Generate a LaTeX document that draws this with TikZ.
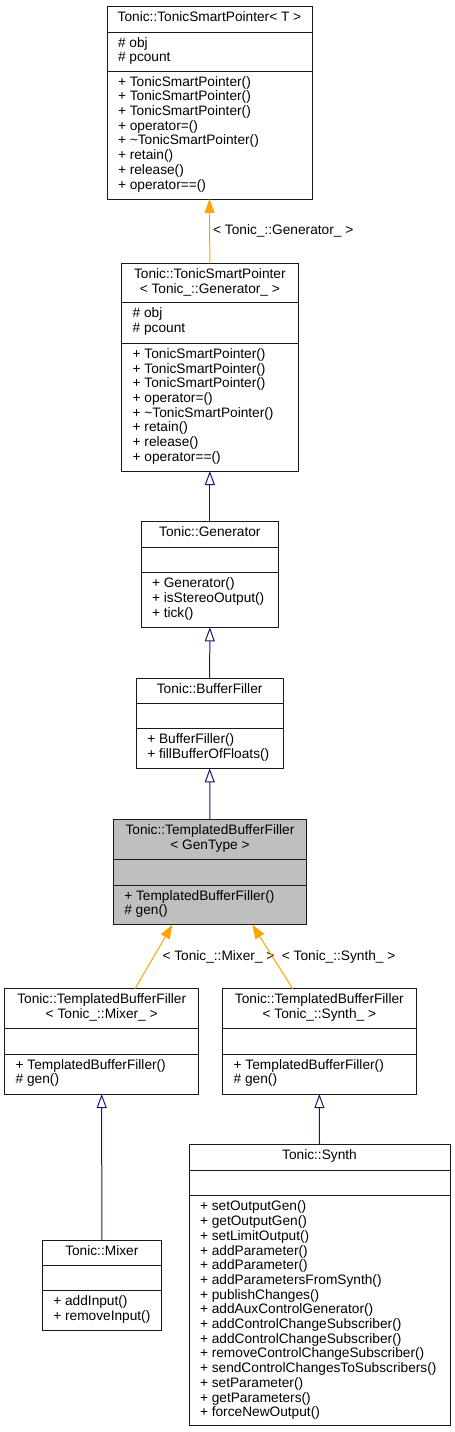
\documentclass[tikz,border=0pt]{standalone}
\usepackage{fontspec}
\setmainfont{Liberation Sans}
\usetikzlibrary{arrows.meta}
\definecolor{edgeorange}{HTML}{FFA500}
\definecolor{edgeblue}{HTML}{191970}
\definecolor{boxgray}{HTML}{BFBFBF}
\definecolor{boxline}{HTML}{1A1A1A}
\newcommand{\fs}{\fontsize{13.7}{14.7}\selectfont}
\begin{document}
\begin{tikzpicture}[x=1pt,y=-1pt,
  cls/.style={draw=boxline,line width=0.9pt,rectangle,inner sep=0pt,outer sep=0pt,anchor=north west},
  sep/.style={draw=boxline,line width=0.9pt},
  txt/.style={font=\fs,inner sep=0pt,outer sep=0pt,align=left,anchor=north west},
  ttl/.style={font=\fs,inner sep=0pt,outer sep=0pt,align=center,anchor=north},
  inh/.style={draw=edgeblue,line width=1pt,-{Triangle[open,width=10pt,length=14pt]}},
  tpl/.style={draw=edgeorange,line width=1pt,-{Triangle[width=10pt,length=14pt,fill=edgeorange]}},
  lbl/.style={font=\fs,inner sep=0pt,anchor=base west}
]
\fill[white] (0,0) rectangle (455,1432);
\useasboundingbox (0,0) rectangle (455,1432);

% A
\node[cls,minimum width=205pt,minimum height=193pt] (A) at (107,6) {};
\draw[sep] ([yshift=-26pt]A.north west) -- ([yshift=-26pt]A.north east);
\draw[sep] ([yshift=-65pt]A.north west) -- ([yshift=-65pt]A.north east);
\node[ttl] (At) at (209.5,10.9) {\strut Tonic::TonicSmartPointer< T >};
\node[txt] (Aa) at (118,36.9) {\strut\# obj\\\# pcount};
\node[txt] (Am) at (118,75.9) {\strut+ TonicSmartPointer()\\+ TonicSmartPointer()\\+ TonicSmartPointer()\\+ operator=()\\+ \textasciitilde TonicSmartPointer()\\+ retain()\\+ release()\\+ operator==()};

% B
\node[cls,minimum width=176.3pt,minimum height=207.7pt] (B) at (121.7,263.3) {};
\draw[sep] ([yshift=-39.4pt]B.north west) -- ([yshift=-39.4pt]B.north east);
\draw[sep] ([yshift=-80pt]B.north west) -- ([yshift=-80pt]B.north east);
\node[ttl] (Bt) at (209.85,268.2) {\strut Tonic::TonicSmartPointer\\< Tonic\_::Generator\_ >};
\node[txt] (Ba) at (132.7,307.6) {\strut\# obj\\\# pcount};
\node[txt] (Bm) at (132.7,348.2) {\strut+ TonicSmartPointer()\\+ TonicSmartPointer()\\+ TonicSmartPointer()\\+ operator=()\\+ \textasciitilde TonicSmartPointer()\\+ retain()\\+ release()\\+ operator==()};

% C
\node[cls,minimum width=137.7pt,minimum height=105.6pt] (C) at (141,521.7) {};
\draw[sep] ([yshift=-25.6pt]C.north west) -- ([yshift=-25.6pt]C.north east);
\draw[sep] ([yshift=-51pt]C.north west) -- ([yshift=-51pt]C.north east);
\node[ttl] (Ct) at (209.85,526.6) {\strut Tonic::Generator};
\node[txt] (Cm) at (152,577.6) {\strut+ Generator()\\+ isStereoOutput()\\+ tick()};

% D
\node[cls,minimum width=146.7pt,minimum height=90pt] (D) at (136.3,678.3) {};
\draw[sep] ([yshift=-24.7pt]D.north west) -- ([yshift=-24.7pt]D.north east);
\draw[sep] ([yshift=-50.4pt]D.north west) -- ([yshift=-50.4pt]D.north east);
\node[ttl] (Dt) at (209.65,683.2) {\strut Tonic::BufferFiller};
\node[txt] (Dm) at (147.3,733.6) {\strut+ BufferFiller()\\+ fillBufferOfFloats()};

% E
\node[cls,fill=boxgray,minimum width=193.4pt,minimum height=105.4pt] (E) at (113.3,819.3) {};
\draw[sep] ([yshift=-40pt]E.north west) -- ([yshift=-40pt]E.north east);
\draw[sep] ([yshift=-65.7pt]E.north west) -- ([yshift=-65.7pt]E.north east);
\node[ttl] (Et) at (210,824.2) {\strut Tonic::TemplatedBufferFiller\\< GenType >};
\node[txt] (Em) at (124.3,889.9) {\strut+ TemplatedBufferFiller()\\\# gen()};

% F
\node[cls,minimum width=194pt,minimum height=105.3pt] (F) at (4.7,988.7) {};
\draw[sep] ([yshift=-40pt]F.north west) -- ([yshift=-40pt]F.north east);
\draw[sep] ([yshift=-65.3pt]F.north west) -- ([yshift=-65.3pt]F.north east);
\node[ttl] (Ft) at (101.7,993.6) {\strut Tonic::TemplatedBufferFiller\\< Tonic\_::Mixer\_ >};
\node[txt] (Fm) at (15.7,1058.9) {\strut+ TemplatedBufferFiller()\\\# gen()};

% G
\node[cls,minimum width=193.3pt,minimum height=105.3pt] (G) at (222.7,988.7) {};
\draw[sep] ([yshift=-40pt]G.north west) -- ([yshift=-40pt]G.north east);
\draw[sep] ([yshift=-65.3pt]G.north west) -- ([yshift=-65.3pt]G.north east);
\node[ttl] (Gt) at (319.35,993.6) {\strut Tonic::TemplatedBufferFiller\\< Tonic\_::Synth\_ >};
\node[txt] (Gm) at (233.7,1058.9) {\strut+ TemplatedBufferFiller()\\\# gen()};

% H
\node[cls,minimum width=119pt,minimum height=90.7pt] (H) at (42.3,1240) {};
\draw[sep] ([yshift=-25pt]H.north west) -- ([yshift=-25pt]H.north east);
\draw[sep] ([yshift=-50.7pt]H.north west) -- ([yshift=-50.7pt]H.north east);
\node[ttl] (Ht) at (101.8,1244.9) {\strut Tonic::Mixer};
\node[txt] (Hm) at (53.3,1295.6) {\strut+ addInput()\\+ removeInput()};

% I
\node[cls,minimum width=261pt,minimum height=280.7pt] (I) at (189,1144.3) {};
\draw[sep] ([yshift=-25.7pt]I.north west) -- ([yshift=-25.7pt]I.north east);
\draw[sep] ([yshift=-51.4pt]I.north west) -- ([yshift=-51.4pt]I.north east);
\node[ttl] (It) at (319.5,1149.2) {\strut Tonic::Synth};
\node[txt] (Im) at (200,1200.6) {\strut+ setOutputGen()\\+ getOutputGen()\\+ setLimitOutput()\\+ addParameter()\\+ addParameter()\\+ addParametersFromSynth()\\+ publishChanges()\\+ addAuxControlGenerator()\\+ addControlChangeSubscriber()\\+ addControlChangeSubscriber()\\+ removeControlChangeSubscriber()\\+ sendControlChangesToSubscribers()\\+ setParameter()\\+ getParameters()\\+ forceNewOutput()};

% connectors
\draw[tpl] (B.north) -- (A.south);
\node[lbl] (L1) at (213,234.5) {< Tonic\_::Generator\_ >};
\draw[inh] (C.north) -- (B.south);
\draw[inh] (D.north) -- (C.south);
\draw[inh] (E.north) -- (D.south);
\draw[tpl] ([xshift=33.3pt]F.north) -- ([xshift=-37.7pt]E.south);
\node[lbl] (L2) at (162.3,960) {< Tonic\_::Mixer\_ >};
\draw[tpl] ([xshift=-26.7pt]G.north) -- ([xshift=42.3pt]E.south);
\node[lbl] (L3) at (281.7,960) {< Tonic\_::Synth\_ >};
\draw[inh] (H.north) -- (F.south);
\draw[inh] (I.north) -- (G.south);
\end{tikzpicture}
\end{document}
